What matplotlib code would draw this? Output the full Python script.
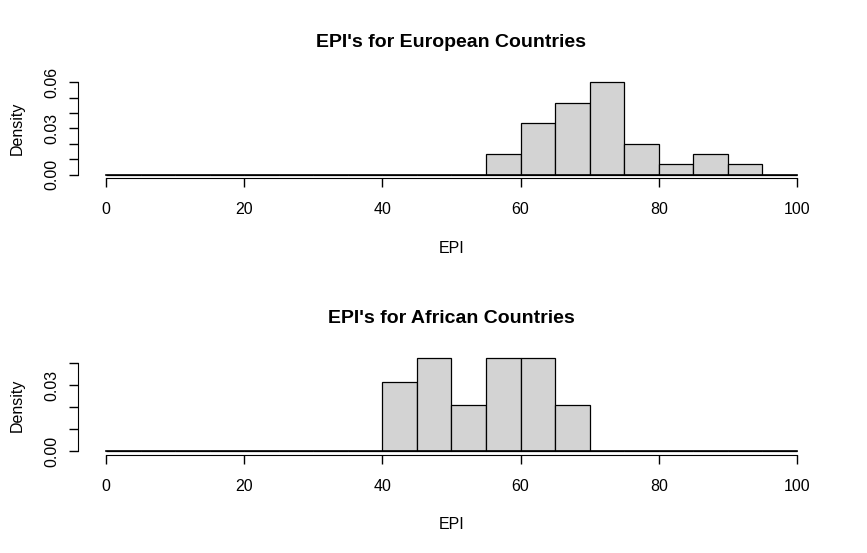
import matplotlib
matplotlib.use("Agg")
import matplotlib.pyplot as plt
import numpy as np

# histogram bins (width 5) and counts
edges = np.arange(0, 101, 5)
europe_counts = [0]*11 + [2, 5, 7, 9, 3, 1, 2, 1, 0]
africa_counts = [0]*8 + [3, 4, 2, 4, 4, 2] + [0]*6

europe_ticks = [0, 0.01, 0.02, 0.03, 0.04, 0.05, 0.06]
europe_labels = ["0.00", "", "", "0.03", "", "", "0.06"]
africa_ticks = [0, 0.01, 0.02, 0.03, 0.04]
africa_labels = ["0.00", "", "", "0.03", ""]
x_ticks = [0, 20, 40, 60, 80, 100]

plt.rcParams['font.family'] = ['Liberation Sans', 'DejaVu Sans']

fig = plt.figure(figsize=(8.67, 5.53), dpi=100)


def r_hist(ax, counts, title, yticks, ylabels):
    counts = np.array(counts, dtype=float)
    dens = counts / (counts.sum() * 5)
    ax.bar(edges[:-1], dens, width=5, align='edge', color='#d3d3d3',
           edgecolor='black', linewidth=0.9)
    # zero-height bins show as a flat line
    ax.plot([edges[0], edges[-1]], [0, 0], color='black', linewidth=1.2)
    ymax = dens.max()
    ax.set_xlim(-4, 104)
    ax.set_ylim(-0.04 * ymax, 1.04 * ymax)
    for s in ['top', 'right']:
        ax.spines[s].set_visible(False)
    ax.spines['left'].set_bounds(yticks[0], yticks[-1])
    ax.spines['bottom'].set_bounds(0, 100)
    ax.set_xticks(x_ticks)
    ax.set_yticks(yticks)
    ax.set_yticklabels(ylabels, rotation=90, va='center')
    ax.tick_params(axis='both', length=6.5, width=1, labelsize=11.5)
    ax.tick_params(axis='y', pad=7)
    ax.tick_params(axis='x', pad=10.5)
    ax.set_xlabel("EPI", fontsize=11.5, labelpad=17)
    ax.set_ylabel("Density", fontsize=11.5, labelpad=14)
    ax.set_title(title, fontsize=14, fontweight='bold', pad=22.5)


ax1 = fig.add_axes([0.0904, 0.6776, 0.8606, 0.1803])
r_hist(ax1, europe_counts, "EPI's for European Countries", europe_ticks, europe_labels)

ax2 = fig.add_axes([0.0904, 0.1772, 0.8606, 0.1815])
r_hist(ax2, africa_counts, "EPI's for African Countries", africa_ticks, africa_labels)

fig.savefig("out.png", dpi=100)
